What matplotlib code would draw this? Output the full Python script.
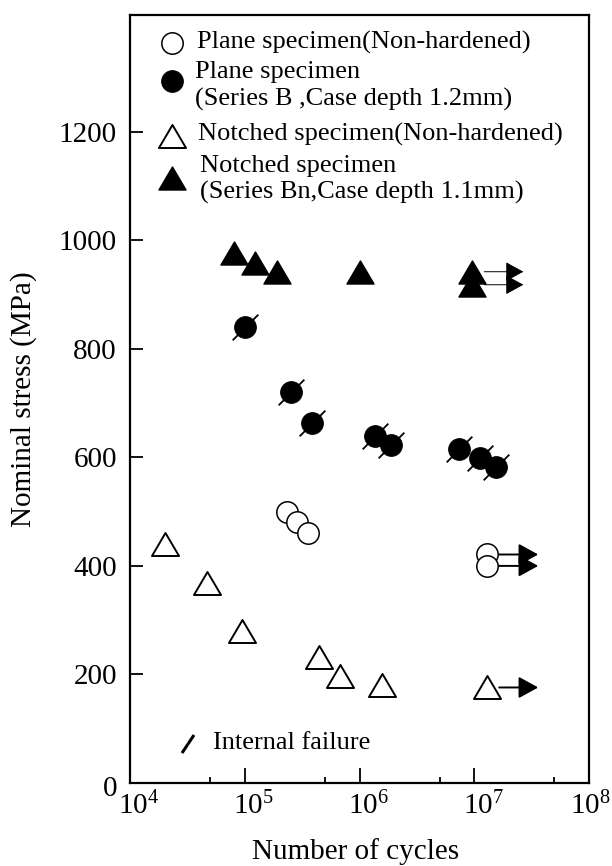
import numpy as np
import matplotlib
matplotlib.use('Agg')
import matplotlib.pyplot as plt
from matplotlib.path import Path
from matplotlib.ticker import FixedLocator, FixedFormatter, NullFormatter
from matplotlib.transforms import ScaledTranslation

plt.rcParams['font.family'] = ['Liberation Serif', 'DejaVu Serif']
plt.rcParams['mathtext.fontset'] = 'custom'
plt.rcParams['mathtext.rm'] = 'Liberation Serif'
plt.rcParams['mathtext.it'] = 'Liberation Serif:italic'

# ---------------- data ----------------
plane_nh_cycles = [2.32e5, 2.88e5, 3.58e5, 1.28e7, 1.28e7]
plane_nh_stress = [500, 480, 460, 421, 400]
plane_nh_runout = [False, False, False, True, True]

plane_b_cycles = [1.0e5, 2.52e5, 3.84e5, 1.37e6, 1.9e6, 7.3e6, 1.12e7, 1.56e7]
plane_b_stress = [840, 720, 664, 640, 623, 616, 598, 583]

notch_nh_cycles = [2.02e4, 4.66e4, 9.5e4, 4.4e5, 6.7e5, 1.56e6, 1.28e7]
notch_nh_stress = [440, 368, 280, 233, 198, 181, 176]
notch_nh_runout = [False, False, False, False, False, False, True]

notch_bn_cycles = [8.1e4, 1.24e5, 1.9e5, 1.02e6, 9.5e6, 9.5e6]
notch_bn_stress = [976, 958, 942, 941, 942, 918]
notch_bn_runout = [False, False, False, False, True, True]

x_tick_values = [1e4, 1e5, 1e6, 1e7, 1e8]
x_tick_labels = ['$\\mathregular{10^{4}}$', '$\\mathregular{10^{5}}$',
                 '$\\mathregular{10^{6}}$', '$\\mathregular{10^{7}}$',
                 '$\\mathregular{10^{8}}$']
x_minor_values = [5e4, 5e5, 5e6, 5e7]
y_tick_values = [0, 200, 400, 600, 800, 1000, 1200]
y_tick_labels = ['0', '200', '400', '600', '800', '1000', '1200']

legend_labels = ['Plane specimen(Non-hardened)',
                 'Plane specimen\n(Series B ,Case depth 1.2mm)',
                 'Notched specimen(Non-hardened)',
                 'Notched specimen\n(Series Bn,Case depth 1.1mm)']

# ---------------- figure ----------------
fig = plt.figure(figsize=(6.12, 8.66), dpi=100)
ax = fig.add_axes([130 / 612, 83 / 866, 459 / 612, 768 / 866])

tri = Path([(0, 0.85), (-1, -0.85), (1, -0.85), (0, 0.85)],
           [Path.MOVETO, Path.LINETO, Path.LINETO, Path.CLOSEPOLY])
slash = Path([(-1, -1), (1, 1)], [Path.MOVETO, Path.LINETO])

TRI_MS = 19.5
CIR_MS = 15.4

ax.plot(notch_nh_cycles, notch_nh_stress, ls='none', marker=tri, ms=TRI_MS,
        mfc='white', mec='black', mew=1.4, zorder=3)
ax.plot(notch_bn_cycles, notch_bn_stress, ls='none', marker=tri, ms=TRI_MS,
        mfc='black', mec='black', mew=1.0, zorder=3)
ax.plot(plane_nh_cycles, plane_nh_stress, ls='none', marker='o', ms=CIR_MS,
        mfc='white', mec='black', mew=1.1, zorder=3)
ax.plot(plane_b_cycles, plane_b_stress, ls='none', marker=slash, ms=18.5,
        mfc='none', mec='black', mew=1.3, zorder=2)
ax.plot(plane_b_cycles, plane_b_stress, ls='none', marker='o', ms=CIR_MS + 0.3,
        mfc='black', mec='black', mew=0.6, zorder=3)

TAIL = 10 ** 0.11
TIP = 10 ** 0.45

def runout_arrows(cycles, stress, flags, lw, ms):
    for c, s, f in zip(cycles, stress, flags):
        if f:
            ax.annotate('', xy=(c * TIP, s), xytext=(c * TAIL, s),
                        arrowprops=dict(arrowstyle='-|>,head_length=0.4,head_width=0.22',
                                        mutation_scale=ms, lw=lw, color='black',
                                        shrinkA=0, shrinkB=0), zorder=4)

runout_arrows(plane_nh_cycles, plane_nh_stress, plane_nh_runout, 1.4, 30)
runout_arrows(notch_nh_cycles, notch_nh_stress, notch_nh_runout, 1.4, 30)
runout_arrows(notch_bn_cycles, notch_bn_stress, notch_bn_runout, 0.7, 28)

# ---------------- axes ----------------
ax.set_xscale('log')
ax.set_xlim(1e4, 1e8)
ax.set_ylim(0, 1415)
ax.xaxis.set_major_locator(FixedLocator(x_tick_values))
ax.xaxis.set_major_formatter(FixedFormatter(x_tick_labels))
ax.xaxis.set_minor_locator(FixedLocator(x_minor_values))
ax.xaxis.set_minor_formatter(NullFormatter())
ax.yaxis.set_major_locator(FixedLocator(y_tick_values))
ax.yaxis.set_major_formatter(FixedFormatter(y_tick_labels))
ax.yaxis.set_minor_locator(FixedLocator([]))

ax.tick_params(axis='x', which='major', direction='in', length=10.8, width=1.3,
               labelsize=21, pad=6.5, top=False)
ax.tick_params(axis='x', which='minor', direction='in', length=4.1, width=1.3, top=False)
ax.tick_params(axis='y', which='major', direction='in', length=9, width=1.3,
               labelsize=21, pad=9.4, right=False)
for sp in ax.spines.values():
    sp.set_linewidth(1.6)

xlabs = ax.get_xticklabels()
for i, lab in enumerate(xlabs):
    dx = 9 if i < len(xlabs) - 1 else 1
    lab.set_transform(lab.get_transform() + ScaledTranslation(dx / 100, 0, fig.dpi_scale_trans))
ydown = ScaledTranslation(0, -3 / 100, fig.dpi_scale_trans)
ax.get_yticklabels()[0].set_transform(ax.get_yticklabels()[0].get_transform() + ydown)

ax.set_xlabel('Number of cycles', fontsize=21)
ax.xaxis.set_label_coords(0.491, -0.0716)
ax.set_ylabel('Nominal stress (MPa)', fontsize=21)
ax.yaxis.set_label_coords(-0.2026, 0.5)

# ---------------- legend (inside axes) ----------------
T = ax.transAxes
ax.plot([0.0906], [0.963], transform=T, marker='o', ms=CIR_MS, mfc='white',
        mec='black', mew=1.1, ls='none', clip_on=False)
ax.plot([0.0906], [0.914], transform=T, marker='o', ms=CIR_MS + 0.3, mfc='black',
        mec='black', mew=0.6, ls='none', clip_on=False)
ax.plot([0.0915], [0.842], transform=T, marker=tri, ms=TRI_MS, mfc='white',
        mec='black', mew=1.4, ls='none', clip_on=False)
ax.plot([0.0915], [0.788], transform=T, marker=tri, ms=TRI_MS, mfc='black',
        mec='black', mew=1.0, ls='none', clip_on=False)

LFS = 19
ax.text(0.146, 0.964, legend_labels[0], transform=T, fontsize=LFS, va='center', ha='left')
ax.text(0.1416, 0.9076, legend_labels[1], transform=T, fontsize=LFS, va='center', ha='left',
        linespacing=1.25)
ax.text(0.1475, 0.844, legend_labels[2], transform=T, fontsize=LFS, va='center', ha='left')
ax.text(0.152, 0.786, legend_labels[3], transform=T, fontsize=LFS, va='center', ha='left',
        linespacing=1.25)

ax.plot([0.1133, 0.1394], [0.039, 0.0625], transform=T, color='black', lw=2.2,
        solid_capstyle='butt')
ax.text(0.18, 0.052, 'Internal failure', transform=T, fontsize=LFS, va='center', ha='left')

fig.savefig('out.png', dpi=100)
